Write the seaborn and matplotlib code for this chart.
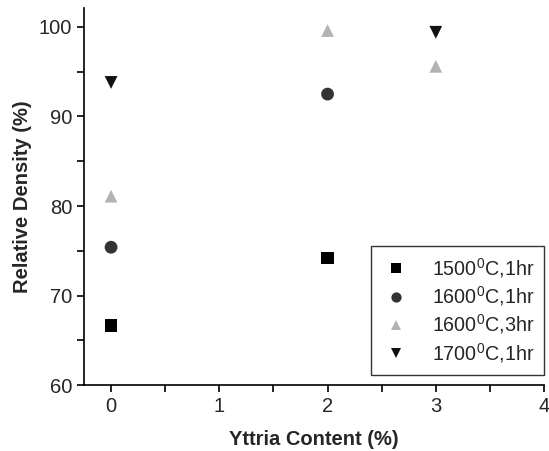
import pandas as pd
import matplotlib.pyplot as plt
from matplotlib.ticker import MultipleLocator
import seaborn as sns

sns.set_theme(style="ticks")
plt.rcParams['font.family'] = ['Liberation Sans', 'DejaVu Sans']
plt.rcParams['mathtext.fontset'] = 'custom'
plt.rcParams['mathtext.rm'] = 'Liberation Sans'

# data
series = ["1500$^0$C,1hr", "1600$^0$C,1hr", "1600$^0$C,3hr", "1700$^0$C,1hr"]
x_1500_1h = [0, 2]
y_1500_1h = [66.7, 74.2]
x_1600_1h = [0, 2]
y_1600_1h = [75.4, 92.5]
x_1600_3h = [0, 2, 3]
y_1600_3h = [81.1, 99.6, 95.6]
x_1700_1h = [0, 3]
y_1700_1h = [93.8, 99.4]

rows = []
for name, xs, ys in zip(series,
                        [x_1500_1h, x_1600_1h, x_1600_3h, x_1700_1h],
                        [y_1500_1h, y_1600_1h, y_1600_3h, y_1700_1h]):
    for xv, yv in zip(xs, ys):
        rows.append({"yttria": xv, "density": yv, "cond": name})
df = pd.DataFrame(rows)

colors = dict(zip(series, ["#000000", "#333333", "#b3b3b3", "#111111"]))
markers = dict(zip(series, ["s", "o", "^", "v"]))

fig = plt.figure(figsize=(5.49, 4.51), dpi=100)
ax = fig.add_axes([0.153, 0.146, 0.838, 0.836])

sns.scatterplot(data=df, x="yttria", y="density", hue="cond", style="cond",
                hue_order=series, style_order=series,
                palette=colors, markers=markers, s=85, linewidth=0, ax=ax)

ax.set_xlim(-0.25, 4)
ax.set_ylim(60, 102.1)
ax.xaxis.set_major_locator(MultipleLocator(1))
ax.xaxis.set_minor_locator(MultipleLocator(0.5))
ax.yaxis.set_major_locator(MultipleLocator(10))
ax.yaxis.set_minor_locator(MultipleLocator(5))
ax.tick_params(which="both", direction="out", length=5, width=1.2, labelsize=14.5, color="black")
for s in ["left", "bottom"]:
    ax.spines[s].set_linewidth(1.2)
    ax.spines[s].set_color("black")
sns.despine(ax=ax)

ax.set_xlabel("Yttria Content (%)", fontsize=14.5, fontweight="bold", labelpad=10)
ax.set_ylabel("Relative Density (%)", fontsize=14.5, fontweight="bold", labelpad=5)

leg = ax.legend(loc="lower right", bbox_to_anchor=(1.0, 0.028), fontsize=14.2,
                frameon=True, fancybox=False, edgecolor="black",
                borderpad=0.5, labelspacing=0.22, handlelength=1.6,
                handletextpad=1.0, borderaxespad=0.0, markerscale=0.8)
leg.get_frame().set_linewidth(1.0)

fig.savefig("out.png", dpi=100)
